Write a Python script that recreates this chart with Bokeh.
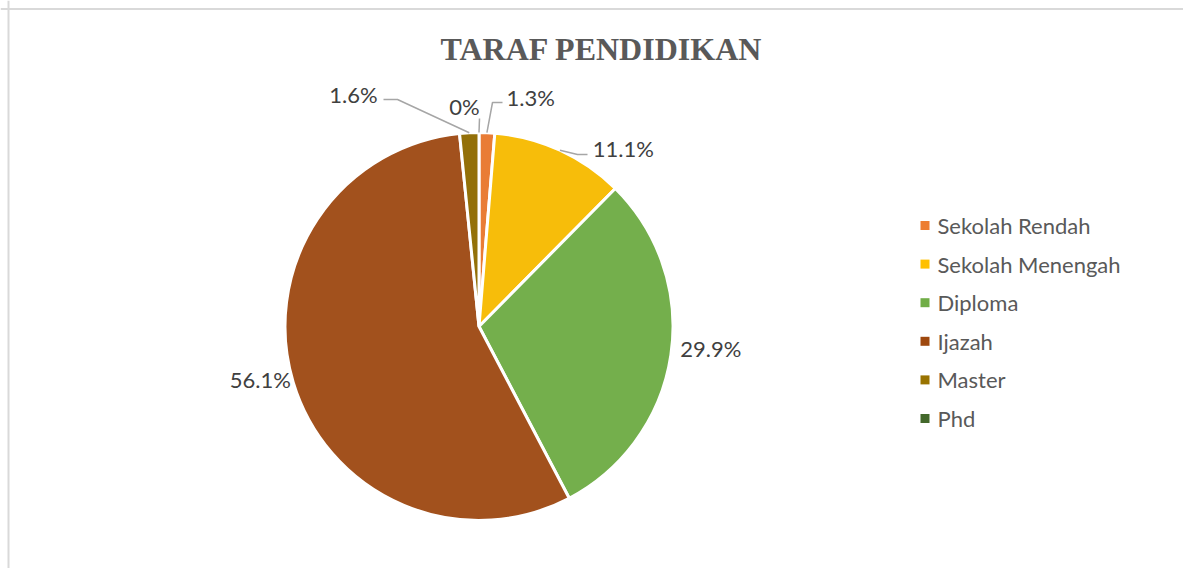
import math
from bokeh.plotting import figure
from bokeh.models import ColumnDataSource, Range1d, Span
from bokeh.core.properties import value
from bokeh.embed import file_html
from bokeh.resources import INLINE

# ---- data ----
chart_title = "TARAF PENDIDIKAN"
categories = ["Sekolah Rendah", "Sekolah Menengah", "Diploma", "Ijazah", "Master", "Phd"]
percentages = [1.3, 11.1, 29.9, 56.1, 1.6, 0.0]
label_texts = ["1.3%", "11.1%", "29.9%", "56.1%", "1.6%", "0%"]

# ---- styles / layout ----
slice_colors = ["#E97C35", "#F7BD0A", "#74AF4C", "#A2511D", "#937008", "#466A2E"]
legend_colors = ["#ED7D31", "#FFC000", "#70AD47", "#9E480E", "#997300", "#43682B"]
FONT = "Lato"
W, H = 1183, 568
cx, cy, r = 478.5, -326.0, 194.0          # data y = -screen y
label_angle_deg = [12.7, 39.1, 95.4, 256.4, -28.4, -3.8]
label_radius_f = [1.21, 1.18, 1.20, 1.16, 1.36, 1.137]
# leader line bend/end points (screen px) for small slices; None = no leader
leader_pts = [[(492, 102), (502, 102)], [(577, 154), (587, 154)], None, None,
              [(397, 99), (383, 99)], [(479, 118)]]
legend_x, legend_y0, legend_dy = 924.5, 225.0, 38.6

p = figure(width=W, height=H, x_range=Range1d(0, W), y_range=Range1d(-H, 0),
           output_backend="svg", toolbar_location=None, min_border=0)
p.axis.visible = False
p.grid.visible = False
p.outline_line_color = None
p.background_fill_color = "white"
p.border_fill_color = "white"

# frame lines (top / left)
p.add_layout(Span(location=8, dimension="height", line_color="#d9d9d9", line_width=2))
p.add_layout(Span(location=-8.5, dimension="width", line_color="#d9d9d9", line_width=2))

# slice angles
total = sum(percentages)
starts, ends, mids = [], [], []
c = 0.0
for v in percentages:
    f0 = c / total
    c += v
    f1 = c / total
    starts.append(math.pi / 2 - 2 * math.pi * f0)
    ends.append(math.pi / 2 - 2 * math.pi * f1)
    mids.append(2 * math.pi * (f0 + f1) / 2)  # clockwise from top

nz = [i for i, v in enumerate(percentages) if v > 0]
src = ColumnDataSource(dict(
    start=[starts[i] for i in nz], end=[ends[i] for i in nz],
    color=[slice_colors[i] for i in nz]))
p.wedge(x=cx, y=cy, radius=r, start_angle="start", end_angle="end", direction="clock",
        fill_color="color", line_color="white", line_width=3, source=src)

# leader lines
xs, ys = [], []
for i, pts in enumerate(leader_pts):
    if pts is None:
        continue
    ex = cx + r * math.sin(mids[i])
    ey = cy + r * math.cos(mids[i])
    xs.append([ex] + [q[0] for q in pts])
    ys.append([ey] + [-q[1] for q in pts])
p.multi_line(xs=xs, ys=ys, line_color="#a6a6a6", line_width=1.5)

# data labels
lx = [cx + f * r * math.sin(math.radians(a)) for a, f in zip(label_angle_deg, label_radius_f)]
ly = [cy + f * r * math.cos(math.radians(a)) for a, f in zip(label_angle_deg, label_radius_f)]
p.text(x=lx, y=ly, text=label_texts, text_font=value(FONT), text_font_size="22px",
       text_color="#404040", text_align="center", text_baseline="middle")

# title
p.text(x=[601], y=[-48], text=[chart_title], text_font=value("Liberation Serif"),
       text_font_style="bold", text_font_size="32px", text_color="#595959",
       text_align="center", text_baseline="middle")

# legend
gy = [-(legend_y0 + k * legend_dy) for k in range(len(categories))]
p.rect(x=[legend_x] * len(categories), y=gy, width=9, height=9,
       fill_color=legend_colors, line_color=None)
p.text(x=[legend_x + 12.5] * len(categories), y=gy, text=categories, text_font=value(FONT),
       text_font_size="22px", text_color="#595959", text_align="left", text_baseline="middle")

open("out.html", "w").write(file_html(p, INLINE))
